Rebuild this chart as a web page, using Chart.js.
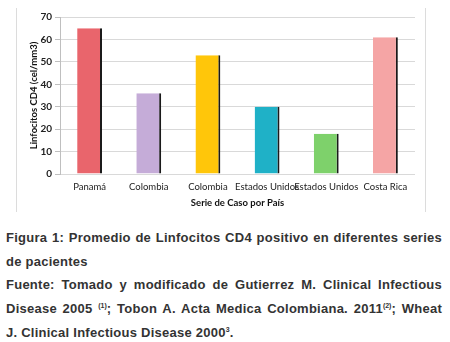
<!DOCTYPE html>
<html>
<head>
<meta charset="utf-8">
<script src="https://cdn.jsdelivr.net/npm/chart.js@4/dist/chart.umd.min.js"></script>
<style>
  html, body { margin: 0; padding: 0; background: #fff; width: 450px; height: 342px; overflow: hidden; }
  #wrap { position: absolute; left: 0; top: 0; width: 450px; height: 214px; }
  #frame { position: absolute; left: 16px; top: 8px; width: 410px; height: 204px; border-left: 1px solid #dcdcdc; border-right: 1px solid #dcdcdc; box-sizing: border-box; }
  #caption { position: absolute; left: 6px; top: 226px; width: 436px; font-family: "Liberation Sans", Arial, sans-serif; font-weight: bold; font-size: 13px; letter-spacing: 0.25px; line-height: 23.7px; color: #333; }
  #caption .j { text-align: justify; text-align-last: justify; white-space: nowrap; }
  #caption .l { text-align: left; white-space: nowrap; }
  #caption sup { font-size: 7px; vertical-align: 5px; line-height: 0; letter-spacing: 0; }
</style>
</head>
<body>
<div id="frame"></div>
<div id="wrap"><canvas id="c" width="450" height="214"></canvas></div>
<div id="caption">
  <div class="j">Figura 1: Promedio de Linfocitos CD4 positivo en diferentes series</div>
  <div class="l">de pacientes</div>
  <div class="j">Fuente: Tomado y modificado de Gutierrez M. Clinical Infectious</div>
  <div class="j">Disease 2005 <sup>(1)</sup>; Tobon A. Acta Medica Colombiana. 2011<sup>(2)</sup>; Wheat</div>
  <div class="l">J. Clinical Infectious Disease 2000<sup>3</sup>.</div>
</div>
<script>
const categories = ["Panamá", "Colombia", "Colombia", "Estados Unidos", "Estados Unidos", "Costa Rica"];
const values = [65, 36, 53, 30, 18, 61];
const barColors = ["#E9656C", "#C5ACD8", "#FFC60A", "#1FB1C7", "#7ED16B", "#F5A5A5"];
const yTicks = [0, 10, 20, 30, 40, 50, 60, 70];

new Chart(document.getElementById("c"), {
  type: "bar",
  data: {
    labels: categories,
    datasets: [{
      data: values,
      backgroundColor: barColors,
      borderColor: "#1a1a1a",
      borderWidth: { left: 0, top: 0, bottom: 0, right: 2 },
      borderSkipped: false,
      categoryPercentage: 1,
      barPercentage: 0.42
    }]
  },
  options: {
    responsive: false,
    animation: false,
    layout: { padding: { left: 28, right: 35, top: 17, bottom: 5 } },
    plugins: { legend: { display: false }, tooltip: { enabled: false } },
    scales: {
      x: {
        grid: { display: false, drawTicks: false, tickLength: 0 },
        border: { display: false },
        ticks: { color: "#222", font: { family: "Lato", size: 9.5 }, padding: 7, maxRotation: 0, autoSkip: false },
        title: { display: true, text: "Serie de Caso por País", color: "#111", font: { family: "Lato", size: 9.5, weight: "bold" }, padding: 0 },
        afterFit: s => { s.height = 35; }
      },
      y: {
        min: 0, max: 70,
        afterBuildTicks: s => { s.ticks = yTicks.map(v => ({ value: v })); },
        grid: { color: "#d9d9d9", tickLength: 5, tickColor: "#bfbfbf" },
        border: { color: "#bfbfbf" },
        ticks: { color: "#222", font: { family: "Lato", size: 10, weight: "bold" }, padding: 3 },
        title: { display: true, text: "Linfocitos CD4 (cel/mm3)", color: "#111", font: { family: "Lato", size: 9.5, weight: "bold" }, padding: 0 },
        afterFit: s => { s.width = 32; }
      }
    }
  }
});
</script>
</body>
</html>
